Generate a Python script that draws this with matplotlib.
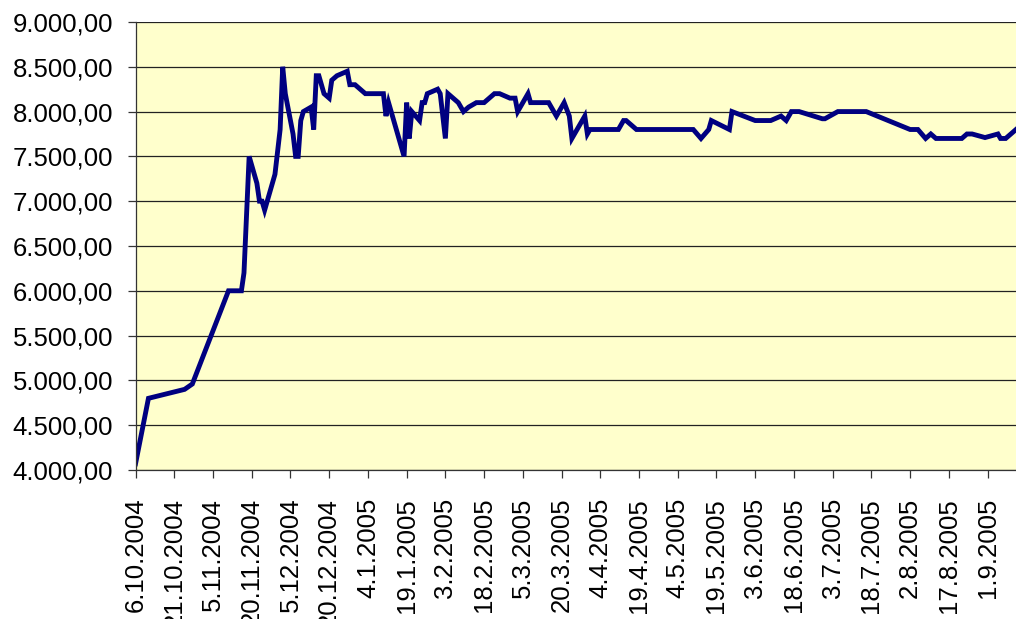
import numpy as np
import pandas as pd
import matplotlib
matplotlib.use("Agg")
import matplotlib.pyplot as plt
from matplotlib.ticker import FuncFormatter

plt.rcParams['font.family'] = ['Liberation Sans', 'DejaVu Sans']

# values
dates = ["6.10.2004", "11.10.2004", "25.10.2004", "28.10.2004", "11.11.2004",
         "16.11.2004", "17.11.2004", "19.11.2004", "22.11.2004", "23.11.2004",
         "24.11.2004", "25.11.2004", "29.11.2004", "1.12.2004", "2.12.2004",
         "3.12.2004", "6.12.2004", "7.12.2004", "8.12.2004", "9.12.2004",
         "10.12.2004", "13.12.2004", "14.12.2004", "15.12.2004", "16.12.2004",
         "18.12.2004", "20.12.2004", "21.12.2004", "23.12.2004", "27.12.2004",
         "28.12.2004", "30.12.2004", "3.1.2005", "10.1.2005", "11.1.2005",
         "12.1.2005", "15.1.2005", "18.1.2005", "19.1.2005", "20.1.2005",
         "21.1.2005", "24.1.2005", "25.1.2005", "26.1.2005", "27.1.2005",
         "31.1.2005", "1.2.2005", "3.2.2005", "4.2.2005", "8.2.2005",
         "10.2.2005", "12.2.2005", "15.2.2005", "18.2.2005", "22.2.2005",
         "24.2.2005", "28.2.2005", "2.3.2005", "3.3.2005", "7.3.2005",
         "8.3.2005", "15.3.2005", "18.3.2005", "21.3.2005", "23.3.2005",
         "24.3.2005", "29.3.2005", "30.3.2005", "31.3.2005", "11.4.2005",
         "13.4.2005", "14.4.2005", "16.4.2005", "18.4.2005", "10.5.2005",
         "13.5.2005", "16.5.2005", "17.5.2005", "24.5.2005", "25.5.2005",
         "3.6.2005", "9.6.2005", "13.6.2005", "15.6.2005", "17.6.2005",
         "20.6.2005", "29.6.2005", "30.6.2005", "5.7.2005", "16.7.2005",
         "2.8.2005", "5.8.2005", "8.8.2005", "10.8.2005", "12.8.2005",
         "22.8.2005", "24.8.2005", "26.8.2005", "31.8.2005", "5.9.2005",
         "6.9.2005", "8.9.2005", "12.9.2005"]
values = [4070, 4800, 4900, 4960, 6000,
          6000, 6200, 7500, 7200, 7000,
          7000, 6900, 7300, 7800, 8500,
          8200, 7750, 7500, 7500, 7900,
          8000, 8050, 7800, 8400, 8400,
          8200, 8150, 8350, 8400, 8450,
          8300, 8300, 8200, 8200, 7950,
          8100, 7800, 7500, 8100, 7700,
          8000, 7900, 8100, 8100, 8200,
          8250, 8200, 7700, 8200, 8100,
          8000, 8050, 8100, 8100, 8200,
          8200, 8150, 8150, 8000, 8200,
          8100, 8100, 7950, 8100, 7950,
          7700, 7950, 7750, 7800, 7800,
          7900, 7900, 7850, 7800, 7800,
          7700, 7800, 7900, 7800, 8000,
          7900, 7900, 7950, 7900, 8000,
          8000, 7920, 7920, 8000, 8000,
          7800, 7800, 7700, 7750, 7700,
          7700, 7750, 7750, 7710, 7750,
          7700, 7700, 7800]

x = pd.to_datetime(dates, format="%d.%m.%Y")
tick_dates = pd.date_range("2004-10-06", periods=23, freq="15D")
tick_labels = [f"{d.day}.{d.month}.{d.year}" for d in tick_dates]

fig = plt.figure(figsize=(10.16, 6.19), dpi=100)
ax = fig.add_axes([0.1334, 0.2407, 0.8666, 0.7238])
ax.set_facecolor("#FFFFCC")

ax.plot(x, values, color="#000080", linewidth=3.5, solid_joinstyle="miter")

ax.set_ylim(4000, 9000)
ax.set_yticks(np.arange(4000, 9001, 500))
ax.yaxis.set_major_formatter(FuncFormatter(
    lambda v, p: f"{v:,.2f}".replace(",", " ").replace(".", ",").replace(" ", ".")))
ax.grid(axis="y", color="#222222", linewidth=0.9)
ax.set_axisbelow(True)

ax.set_xlim(pd.Timestamp("2004-10-06"), pd.Timestamp("2004-10-06") + pd.Timedelta(days=341))
ax.set_xticks(tick_dates)
ax.set_xticklabels(tick_labels, rotation=90, ha="center", va="top")

ax.tick_params(axis="both", labelsize=18.5, length=6, width=0.9, color="#333333",
               direction="out")
ax.tick_params(axis="y", pad=10)
ax.tick_params(axis="x", pad=14)

for s in ["top", "right"]:
    ax.spines[s].set_visible(False)
for s in ["left", "bottom"]:
    ax.spines[s].set_color("#333333")
    ax.spines[s].set_linewidth(0.9)

fig.savefig("out.png", dpi=100)
